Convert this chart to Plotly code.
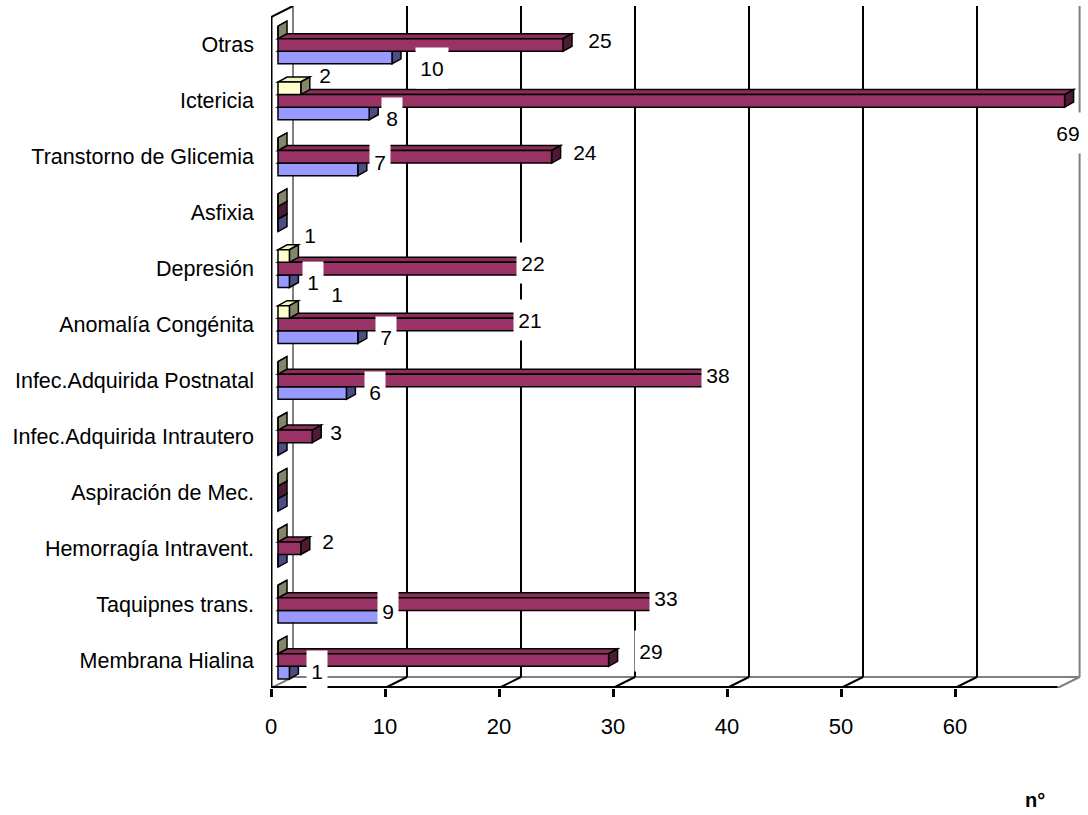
import plotly.graph_objects as go

# ---- data -------------------------------------------------------------
categories = [
    "Membrana Hialina", "Taquipnes trans.", "Hemorragía Intravent.",
    "Aspiración de Mec.", "Infec.Adquirida Intrautero",
    "Infec.Adquirida Postnatal", "Anomalía Congénita", "Depresión",
    "Asfixia", "Transtorno de Glicemia", "Ictericia", "Otras",
]
serie_azul = [1, 9, 0, 0, 0, 6, 7, 1, 0, 7, 8, 10]
serie_granate = [29, 33, 2, 0, 3, 38, 21, 22, 0, 24, 69, 25]
serie_crema = [0, 0, 0, 0, 0, 0, 1, 1, 0, 0, 2, 0]
x_ticks = [0, 10, 20, 30, 40, 50, 60]
x_max = 69

# label placement (pixels from the bar's front end / centre; dy downwards)
lab_azul_dx = [28, 7, 0, 0, 0, 29, 28, 24, 0, 22, 23, 40]
lab_azul_dy = [-2, -6, 0, 0, 0, -1, 0, 1, 0, -7, 5, 10]
lab_granate_dx = [42, 12, 27, 0, 24, 7, 13, 4, 0, 33, 3, 37]
lab_granate_dy = [-9, -6, -7, 0, -4, -5, -5, -6, 0, -5, 32, -5]
lab_crema_dx = [0, 0, 0, 0, 0, 0, 48, 21, 0, 0, 24, 0]
lab_crema_dy = [0, 0, 0, 0, 0, 0, -18, -21, 0, 0, -13, 0]

# ---- geometry of the pseudo-3D box ------------------------------------
W_PX, H_PX = 1088, 815
PLOT_L, PLOT_R, PLOT_T, PLOT_B = 271, 1082, 6, 688
PX_UNIT = 11.4                      # pixels per unit on x
N = len(categories)
PX_CAT = (PLOT_B - 17) / N          # pixels per category
FRONT = -7 / PX_UNIT                # front plane offset (x units)
BACK = 15 / PX_UNIT                 # back wall offset (x units)
DEPTH_Y = 11 / PX_CAT               # back wall rise (category units)
BAR_DX = 9 / PX_UNIT                # bar depth, x
BAR_DY = 5 / PX_CAT                 # bar depth, y
BAR_W = 0.225

x_range = [FRONT, FRONT + (PLOT_R - PLOT_L) / PX_UNIT]
y_range = [-0.5, N - 0.5 + DEPTH_Y]
ypos = list(range(N))

FONT = "Liberation Sans, Arial, sans-serif"
# name, values, front, top, side colours, label offsets, label fill
series = [
    ("azul", serie_azul, "#9999FF", "#8A8AEB", "#4D4D85",
     lab_azul_dx, lab_azul_dy, "white"),
    ("granate", serie_granate, "#993366", "#8C2E5C", "#4F1A35",
     lab_granate_dx, lab_granate_dy, "white"),
    ("crema", serie_crema, "#FFFFCC", "#F2F2BF", "#85856A",
     lab_crema_dx, lab_crema_dy, "rgba(0,0,0,0)"),
]

fig = go.Figure()
shapes = []


def line(x0, y0, x1, y1, color="black", width=2):
    shapes.append(dict(type="line", xref="x", yref="y", x0=x0, y0=y0,
                       x1=x1, y1=y1, layer="below",
                       line=dict(color=color, width=width)))


floor_back = -0.5 + DEPTH_Y
top_back = N - 0.5 + DEPTH_Y
# walls and floor
line(BACK, floor_back, BACK, top_back, "#808080", 2)
line(x_max + BACK, floor_back, x_max + BACK, top_back, "#808080", 2)
line(BACK, floor_back, x_max + BACK, floor_back, "#808080", 2)
line(FRONT, -0.5, BACK, floor_back, "#808080", 2)
line(x_max + FRONT, -0.5, x_max + BACK, floor_back, "#808080", 2)
line(FRONT, N - 0.5, BACK, top_back, "black", 2)
for t in x_ticks[1:]:
    line(t + BACK, floor_back, t + BACK, top_back, "black", 2)
    line(t + FRONT, -0.5, t + BACK, floor_back, "black", 2)

# bar side and top faces
for k, (_, vals, front, top, side, _, _, _) in enumerate(series):
    for i, v in enumerate(vals):
        y0 = ypos[i] + (k - 1.5) * BAR_W
        y1 = y0 + BAR_W
        top_path = (f"M {0},{y1} L {v},{y1} L {v + BAR_DX},{y1 + BAR_DY} "
                    f"L {BAR_DX},{y1 + BAR_DY} Z")
        side_path = (f"M {v},{y0} L {v + BAR_DX},{y0 + BAR_DY} "
                     f"L {v + BAR_DX},{y1 + BAR_DY} L {v},{y1} Z")
        for p, c in ((top_path, top), (side_path, side)):
            shapes.append(dict(type="path", xref="x", yref="y", path=p,
                               fillcolor=c, layer="below",
                               line=dict(color="black", width=1.5)))

# front bars
for k, (name, vals, front, _, _, _, _, _) in enumerate(series):
    fig.add_trace(go.Bar(
        x=vals, y=ypos, orientation="h", name=name,
        width=BAR_W, offset=(k - 1.5) * BAR_W,
        marker=dict(color=front, line=dict(color="black", width=1.5)),
        hoverinfo="skip", showlegend=False,
    ))

# front axes (drawn on top of everything)
top_shapes = []


def line_top(x0, y0, x1, y1, width=3):
    top_shapes.append(dict(type="line", xref="x", yref="y", x0=x0, y0=y0,
                           x1=x1, y1=y1, layer="above",
                           line=dict(color="black", width=width)))


line_top(FRONT, -0.5, FRONT, N - 0.5, 3)
line_top(FRONT, -0.5, x_max + FRONT, -0.5, 4)
for b in range(N + 1):
    top_shapes.append(dict(type="line", xref="x", yref="y",
                           xsizemode="pixel", xanchor=FRONT, x0=-7, x1=0,
                           y0=b - 0.5, y1=b - 0.5, layer="above",
                           line=dict(color="black", width=3)))

# value labels
annotations = []
for k, (name, vals, _, _, _, ldx, ldy, fill) in enumerate(series):
    for i, v in enumerate(vals):
        if v == 0:
            continue
        txt = str(v)
        annotations.append(dict(
            x=v, y=ypos[i] + (k - 1) * BAR_W, xref="x", yref="y",
            text=txt, showarrow=False, xanchor="center", yanchor="middle",
            xshift=ldx[i], yshift=-ldy[i], bgcolor=fill, borderpad=4,
            width=12 * len(txt), height=32,
            font=dict(family=FONT, size=21, color="black"),
        ))

# axis unit caption
annotations.append(dict(
    x=(1035 - PLOT_L) / (PLOT_R - PLOT_L), y=-(800 - PLOT_B) / (PLOT_B - PLOT_T),
    xref="paper", yref="paper", text="<b>n°</b>", showarrow=False,
    xanchor="center", yanchor="middle",
    font=dict(family=FONT, size=20, color="black"),
))

fig.update_layout(
    width=W_PX, height=H_PX, autosize=False,
    margin=dict(l=PLOT_L, r=W_PX - PLOT_R, t=PLOT_T, b=H_PX - PLOT_B, pad=0),
    paper_bgcolor="white", plot_bgcolor="white",
    barmode="overlay", showlegend=False,
    shapes=shapes + top_shapes, annotations=annotations,
    xaxis=dict(range=x_range, tickvals=[t + FRONT for t in x_ticks],
               ticktext=[str(t) for t in x_ticks], ticks="outside",
               ticklen=8, tickwidth=3, tickcolor="black", showgrid=False,
               zeroline=False, showline=False, ticklabelstandoff=11,
               tickfont=dict(family=FONT, size=22, color="black")),
    yaxis=dict(range=y_range, tickvals=ypos, ticktext=categories, ticks="",
               showgrid=False, zeroline=False, showline=False,
               ticklabelstandoff=16,
               tickfont=dict(family=FONT, size=21.5, color="black")),
)

fig.write_html("out.html")
